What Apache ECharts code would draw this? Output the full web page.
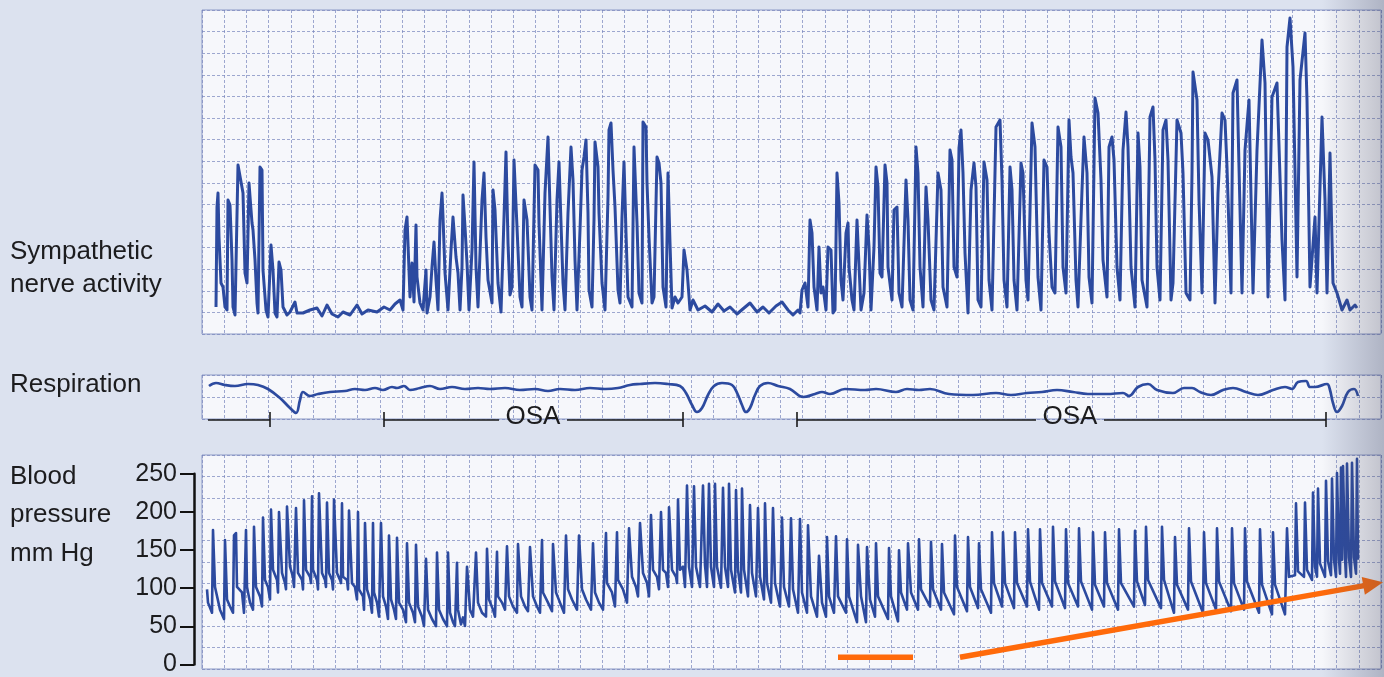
<!DOCTYPE html>
<html>
<head>
<meta charset="utf-8">
<script src="https://cdn.jsdelivr.net/npm/echarts@6/dist/echarts.min.js"></script>
<style>
  html, body { margin: 0; padding: 0; background: #dce2ef; }
  #chart { width: 1384px; height: 677px; }
</style>
</head>
<body>
<div id="chart"></div>
<script>
// Recording length (samples) and chart-paper divisions across it
const TIME_SPAN = 1179;
const PAPER_COLS = 53;

// Sympathetic nerve activity, [sample, a.u.]
const snaTrace = [
  [14,27],[15,127],[16,141],[17,97],[19,51],[21,47],[23,27],[25,24],[26,134],[28,129],[30,74],[31,27],[33,19],[35,21],[36,169],[38,167],[41,141],[43,61],[45,51],[47,151],[50,111],[51,104],[53,74],[55,31],[56,21],[58,167],[60,164],[61,64],[64,24],[66,17],[69,89],[71,64],[73,21],[75,17],[77,72],[79,64],[81,27],[85,19],
  [88,22],[93,32],[95,21],[101,21],[108,24],[115,26],[120,18],[125,29],[130,20],[136,17],[141,22],[148,19],[155,29],[160,20],[166,24],[175,22],[182,27],[188,24],[193,30],[198,34],
  [201,24],[203,104],[205,117],[206,119],[208,37],[210,71],[212,32],[214,109],[215,57],[218,31],[221,24],[224,64],[225,21],[228,37],[230,67],[232,92],[234,54],[236,24],[238,114],[240,141],[241,117],[243,61],[246,24],[249,84],[251,117],[254,77],[256,61],[258,24],[260,67],[261,139],[263,107],[265,71],[267,24],[270,84],[272,172],[274,67],[276,27],[280,134],[282,161],[284,97],[286,54],[290,31],[291,144],[293,124],[296,51],[299,22],[301,84],[304,182],[306,91],[308,39],[310,47],[312,174],[315,107],[318,37],[320,27],[322,134],[325,114],[328,37],[330,24],[333,169],[336,164],[337,111],[340,24],[343,141],[346,197],[348,127],[350,57],[352,24],[355,134],[357,172],[359,111],[361,51],[363,24],[366,121],[369,187],[371,154],[373,74],[375,24],[378,104],[380,164],[382,177],[384,194],[386,121],[387,44],[390,27],[392,114],[393,192],[396,167],[397,121],[400,51],[403,24],[406,137],[407,204],[409,211],[411,164],[413,127],[416,44],[418,31],[420,117],[422,172],[424,101],[426,37],[430,27],[432,187],[435,111],[437,41],[440,31],[441,212],[444,207],[445,151],[447,97],[450,31],[452,37],[455,177],[457,171],[459,151],[461,47],[464,27],[466,161],[468,91],[470,26],[473,37],[476,31],[480,37],[482,84],[485,64],[486,51],[488,24],[491,34],[496,24],
  [503,28],[510,22],[516,30],[522,23],[528,27],[535,20],[542,26],[548,31],[555,22],[561,27],[567,21],[574,28],[580,32],[586,24],[591,19],[596,24],
  [598,21],[600,44],[603,51],[606,27],[608,114],[610,101],[612,47],[615,24],[617,87],[619,41],[621,47],[624,24],[626,87],[629,84],[631,21],[633,24],[635,161],[637,131],[639,54],[641,34],[644,101],[646,111],[647,67],[650,34],[652,24],[655,114],[656,91],[659,24],[662,41],[665,119],[667,87],[669,24],[672,87],[674,167],[676,147],[678,61],[680,57],[683,169],[685,151],[686,67],[690,34],[692,124],[695,127],[697,41],[700,27],[704,154],[706,114],[708,34],[711,24],[714,187],[716,161],[718,67],[721,27],[724,147],[726,114],[729,34],[732,24],[736,161],[739,144],[741,47],[745,27],[748,184],[750,174],[752,67],[755,57],[757,186],[759,204],[761,161],[763,81],[766,21],[769,144],[772,171],[774,147],[776,34],[779,27],[782,172],[785,154],[787,54],[790,24],[794,207],[798,214],[800,154],[802,54],[805,27],[808,167],[810,144],[812,54],[815,24],[819,171],[821,161],[824,54],[826,34],[830,211],[833,187],[836,57],[839,24],[842,174],[845,167],[847,101],[850,47],[853,41],[856,207],[859,187],[861,67],[864,41],[867,214],[869,177],[871,161],[874,54],[876,27],[880,144],[882,197],[885,161],[887,57],[890,31],[893,236],[896,221],[899,154],[901,74],[905,37],[907,187],[910,197],[912,174],[915,67],[918,34],[921,184],[924,222],[926,187],[929,67],[933,27],[936,201],[938,167],[940,54],[945,27],[948,217],[951,227],[953,174],[955,67],[958,34],[961,204],[964,214],[966,174],[969,34],[971,51],[975,214],[979,201],[981,161],[984,41],[988,34],[990,161],[991,262],[995,234],[997,134],[1000,41],[1003,201],[1006,194],[1010,157],[1013,31],[1016,141],[1020,221],[1023,214],[1025,167],[1029,41],[1031,241],[1035,254],[1037,167],[1040,41],[1043,184],[1047,234],[1051,41],[1055,184],[1060,294],[1063,251],[1066,37],[1070,237],[1075,251],[1080,94],[1083,34],[1085,287],[1088,316],[1091,267],[1095,57],[1098,254],[1103,301],[1105,234],[1108,47],[1113,117],[1115,41],[1120,217],[1123,134],[1125,41],[1128,181],[1131,51],[1135,41],[1140,24],[1145,34],[1148,24],[1153,29],[1155,26]
];

// Respiration (chest excursion), [sample, a.u.]
const respTrace = [
  [7,33],[14,36],[23,34],[33,33],[46,35],[56,34],[66,30],[78,21],[88,11],[94,6],[98,19],[101,27],[108,23],[116,25],[128,27],[143,28],[153,30],[163,29],[173,31],[181,29],[190,32],[195,31],[202,33],[208,29],[218,31],[228,33],[238,30],[250,32],[263,30],[276,31],[288,30],[303,31],[318,29],[333,30],[346,28],[358,30],[373,29],[388,31],[403,30],[416,31],[428,34],[438,35],[453,36],[466,35],[478,33],[484,26],[490,14],[495,7],[500,11],[506,24],[512,33],[520,36],[530,34],[536,24],[540,14],[544,7],[548,11],[553,24],[558,33],[566,36],[576,33],[588,30],
  [601,22],[613,25],[620,27],[628,25],[643,30],[663,29],[674,30],[694,27],[705,30],[717,29],[728,30],[747,25],[771,24],[794,26],[809,24],[825,26],[840,27],[855,29],[871,27],[886,25],[905,25],[921,26],[927,23],[936,32],[946,35],[955,29],[971,26],[982,31],[990,31],[998,27],[1009,24],[1021,29],[1031,31],[1044,27],[1056,24],[1071,29],[1083,32],[1090,30],[1096,37],[1104,38],[1108,32],[1113,32],[1125,35],[1128,29],[1131,16],[1135,7],[1140,13],[1146,27],[1152,30],[1156,23]
];

// Arterial blood pressure, [sample, mm Hg]
const bpTrace = [
  [5,102],[6,85],[10,72],[11,178],[13,105],[15,104],[18,76],[22,64],[23,165],[25,89],[28,80],[31,72],[32,171],[34,174],[35,105],[40,98],[42,72],[44,178],[45,105],[48,85],[51,76],[52,182],[54,105],[58,93],[60,80],[61,194],[63,114],[66,105],[68,89],[69,204],[71,127],[75,114],[76,98],[77,201],[80,123],[83,110],[84,102],[85,208],[88,131],[91,118],[92,105],[94,206],[96,123],[100,114],[101,102],[102,216],[104,127],[108,118],[109,110],[110,221],[111,127],[115,114],[116,102],[117,225],[120,123],[123,114],[124,105],[125,213],[127,123],[130,114],[131,102],[132,217],[135,123],[138,114],[139,110],[140,212],[141,118],[145,114],[146,102],[147,203],[150,110],[153,105],[155,89],[156,201],[157,102],[161,93],[162,76],[163,187],[165,102],[168,89],[170,72],[171,187],[172,98],[175,85],[177,67],[179,187],[181,93],[184,80],[186,64],[187,171],[189,89],[192,76],[194,64],[195,168],[197,85],[201,76],[204,60],[205,161],[207,85],[211,72],[213,60],[214,159],[216,80],[220,67],[222,55],[224,141],[226,76],[230,64],[234,55],[235,149],[237,76],[241,64],[245,55],[246,149],[248,72],[251,60],[253,55],[255,136],[256,76],[259,57],[261,66],[263,55],[265,131],[266,114],[268,76],[271,67],[274,149],[276,85],[280,72],[284,67],[285,154],[287,89],[291,76],[293,67],[295,150],[296,93],[300,85],[303,76],[305,157],[307,93],[311,80],[315,72],[316,160],[319,93],[323,80],[326,74],[328,156],[331,93],[335,80],[338,72],[340,165],[341,98],[346,85],[350,74],[351,160],[354,98],[358,85],[362,72],[364,171],[366,102],[370,89],[375,76],[377,171],[380,102],[384,89],[389,76],[391,161],[393,98],[397,85],[401,76],[404,174],[405,110],[410,98],[413,80],[415,175],[416,114],[421,102],[425,85],[427,180],[430,118],[434,105],[436,93],[438,187],[441,123],[445,110],[447,93],[449,197],[451,127],[455,118],[457,102],[459,201],[461,127],[464,123],[466,105],[467,207],[470,127],
  [474,118],[475,110],[476,217],[478,127],[481,131],[483,105],[485,235],[487,131],[490,105],[492,234],[494,131],[498,105],[501,235],[503,133],[505,105],[507,237],[509,131],[512,105],[513,237],[515,131],[519,104],[521,232],[523,131],[526,105],[527,237],[529,127],[533,98],[534,229],[536,127],[539,98],[540,231],[542,127],[546,93],[548,210],[550,123],[554,93],[556,206],[558,118],[562,89],[563,212],[565,110],[569,85],[571,206],[573,110],[578,80],[580,194],[582,105],[587,80],[589,193],[591,102],[596,72],[598,192],[600,98],[605,72],[606,184],[609,93],[615,67],[617,145],[620,85],[624,67],[625,169],[627,93],[632,72],[634,170],[636,93],[644,72],[645,166],[647,93],[655,60],[656,159],[659,93],[664,60],[665,156],[668,89],[673,67],[674,161],[676,93],[686,64],[687,155],[689,93],[696,61],[697,152],[699,98],[705,76],[706,161],[709,98],[716,76],[717,166],[719,102],[728,80],[729,163],[731,102],[739,76],[740,160],[742,98],[752,70],[753,171],[755,105],[765,74],[766,169],[768,105],[776,78],[777,161],[779,102],[789,72],[790,175],[792,110],[800,80],[801,175],[803,110],[812,78],[813,175],[815,110],[825,80],[826,179],[828,112],[837,76],[838,179],[840,110],[850,80],[851,182],[853,112],[863,78],[864,179],[866,110],[876,80],[877,180],[879,112],[890,76],[891,175],[893,108],[902,80],[903,175],[905,110],[916,76],[917,179],[919,110],[932,80],[933,177],[935,112],[943,82],[944,182],[946,114],[959,78],[960,182],[962,114],[972,72],[973,169],[975,108],[986,76],[987,180],[989,112],[1001,72],[1002,175],[1004,110],[1014,76],[1015,180],[1017,112],[1029,74],[1030,180],[1032,110],[1042,76],[1043,180],[1045,112],[1057,72],[1058,179],[1060,108],[1070,70],[1071,175],[1073,108],[1083,70],[1085,180],[1087,118],[1093,120],[1094,212],[1096,125],[1102,118],[1103,213],[1105,127],[1110,114],[1111,226],[1113,131],[1115,118],[1116,231],[1118,135],[1123,118],[1124,241],[1126,138],[1129,120],[1130,244],[1132,140],[1134,118],[1135,251],[1137,140],[1138,122],[1139,258],[1140,140],[1141,260],[1143,143],[1144,118],[1145,263],[1147,143],[1149,118],[1150,264],[1152,143],[1154,122],[1155,269],[1156,140]
];
const bpMax = 274;
const bpTicks = [0, 50, 100, 150, 200, 250];

// Obstructive sleep apnoea episodes, [sample]
const osaStart = [6, 182, 595];
const osaEnd = [68, 481, 1124];
const osaLabel = ['', 'OSA', 'OSA'];
const osaLabelAt = [null, 331, 868];
const osaBeganEarlier = [true, false, false];

// Pressure trend annotation, [sample, mm Hg]
const trendDash = [[636, 15], [711, 15]];
const trendArrow = [[758, 15], [1181, 111]];

const FONT = '"Liberation Sans", Arial, Helvetica, sans-serif';
const INK = '#1c1c1e';
const TRACE = '#2c4a9f';
const PAPER = '#f6f7fb';
const ORANGE = '#ff6a0a';

const paperLine = { show: true, lineStyle: { color: 'rgba(120,133,188,0.7)', width: 1, type: [3, 2] } };

function timeAxis(gridIndex, paper) {
  return {
    type: 'value', gridIndex, min: 0, max: TIME_SPAN, interval: TIME_SPAN / PAPER_COLS,
    axisLine: { show: false }, axisTick: { show: false }, axisLabel: { show: false },
    splitLine: paper ? paperLine : { show: false }
  };
}
function hiddenAxis(gridIndex, min, max, interval, paper) {
  return {
    type: 'value', gridIndex, min, max, interval,
    axisLine: { show: false }, axisTick: { show: false }, axisLabel: { show: false },
    splitLine: paper ? paperLine : { show: false }
  };
}
const paperGrid = { show: true, backgroundColor: PAPER, borderColor: '#8d9ac6', borderWidth: 1, containLabel: false };

const bpGrid = { left: 202, top: 455, width: TIME_SPAN, height: 214 };
const scaleTop = bpGrid.top + bpGrid.height * (1 - bpTicks[bpTicks.length - 1] / bpMax);
const TICK_LEN = 14;

const chart = echarts.init(document.getElementById('chart'), null, { renderer: 'canvas' });

chart.setOption({
  animation: false,
  backgroundColor: '#dce2ef',
  grid: [
    Object.assign({ left: 202, top: 10, width: TIME_SPAN, height: 324 }, paperGrid),
    Object.assign({ left: 202, top: 375, width: TIME_SPAN, height: 44 }, paperGrid),
    Object.assign({}, bpGrid, paperGrid),
    { left: 194, top: scaleTop, width: 10, height: bpGrid.top + bpGrid.height - scaleTop, show: false },
    { left: 202, top: 405, width: TIME_SPAN, height: 30, show: false }
  ],
  xAxis: [
    timeAxis(0, true),
    timeAxis(1, true),
    timeAxis(2, true),
    { type: 'value', gridIndex: 3, show: false },
    timeAxis(4, false)
  ],
  yAxis: [
    hiddenAxis(0, 0, 324, 21.6, true),
    hiddenAxis(1, 0, 44, 22, true),
    hiddenAxis(2, 0, bpMax, 50, false),
    hiddenAxis(2, 0, 10, 1, true),
    {
      type: 'value', gridIndex: 3, position: 'left',
      min: bpTicks[0], max: bpTicks[bpTicks.length - 1], interval: bpTicks[1] - bpTicks[0],
      axisLine: { show: true, lineStyle: { color: '#111', width: 2.5 } },
      axisTick: { show: true, inside: false, length: TICK_LEN, lineStyle: { color: '#111', width: 2 } },
      axisLabel: { show: true, color: INK, fontSize: 25, fontFamily: FONT, margin: TICK_LEN + 3 },
      splitLine: { show: false }
    },
    hiddenAxis(4, 0, 1, 1, false)
  ],
  series: [
    {
      name: 'Sympathetic nerve activity', type: 'line', xAxisIndex: 0, yAxisIndex: 0,
      data: snaTrace, showSymbol: false, symbol: 'none',
      lineStyle: { color: TRACE, width: 3, join: 'round' }
    },
    {
      name: 'Respiration', type: 'line', xAxisIndex: 1, yAxisIndex: 1,
      data: respTrace, showSymbol: false, symbol: 'none', smooth: 0.4,
      lineStyle: { color: TRACE, width: 2.7 }
    },
    {
      name: 'Blood pressure', type: 'line', xAxisIndex: 2, yAxisIndex: 2,
      data: bpTrace, showSymbol: false, symbol: 'none',
      lineStyle: { color: TRACE, width: 2.6, join: 'round' }
    },
    {
      name: 'OSA', type: 'custom', xAxisIndex: 4, yAxisIndex: 5, clip: false, silent: true,
      data: osaStart.map((s, i) => [s, osaEnd[i], i]),
      renderItem(params, api) {
        const i = api.value(2);
        const a = api.coord([api.value(0), 0.5]);
        const b = api.coord([api.value(1), 0.5]);
        const y = a[1];
        const stroke = { stroke: '#1a1a1a', lineWidth: 1.6 };
        const kids = [];
        if (osaLabel[i]) {
          const xl = api.coord([osaLabelAt[i], 0.5])[0];
          const gap = 34;
          kids.push({ type: 'line', shape: { x1: a[0], y1: y, x2: xl - gap, y2: y }, style: stroke });
          kids.push({ type: 'line', shape: { x1: xl + gap, y1: y, x2: b[0], y2: y }, style: stroke });
          kids.push({ type: 'text', x: xl, y: y - 3,
            style: { text: osaLabel[i], fontSize: 26, fontFamily: FONT, fill: INK, align: 'center', verticalAlign: 'middle' } });
        } else {
          kids.push({ type: 'line', shape: { x1: a[0], y1: y, x2: b[0], y2: y }, style: stroke });
        }
        if (!osaBeganEarlier[i]) {
          kids.push({ type: 'line', shape: { x1: a[0], y1: y - 8, x2: a[0], y2: y + 7 }, style: stroke });
        }
        kids.push({ type: 'line', shape: { x1: b[0], y1: y - 8, x2: b[0], y2: y + 7 }, style: stroke });
        return { type: 'group', children: kids };
      }
    }
  ]
});

// Channel captions, trend arrow and the page shading at the right edge
const bpSeries = 2;
const px = p => chart.convertToPixel({ seriesIndex: bpSeries }, p);
const d0 = px(trendDash[0]), d1 = px(trendDash[1]);
const a0 = px(trendArrow[0]), a1 = px(trendArrow[1]);
const dx = a1[0] - a0[0], dy = a1[1] - a0[1];
const len = Math.hypot(dx, dy), ux = dx / len, uy = dy / len;
const headLen = 20, headHalf = 9;
const base = [a1[0] - ux * headLen, a1[1] - uy * headLen];

function caption(text, x, y) {
  return { type: 'text', x, y, z: 50, silent: true,
    style: { text, fontSize: 26, fontFamily: FONT, fill: INK, verticalAlign: 'middle', align: 'left' } };
}

chart.setOption({
  graphic: [
    caption('Sympathetic', 10, 252),
    caption('nerve activity', 10, 285),
    caption('Respiration', 10, 385),
    caption('Blood', 10, 477),
    caption('pressure', 10, 515),
    caption('mm Hg', 10, 554),
    { type: 'line', z: 60, silent: true, shape: { x1: d0[0], y1: d0[1], x2: d1[0], y2: d1[1] },
      style: { stroke: ORANGE, lineWidth: 5.5 } },
    { type: 'line', z: 60, silent: true, shape: { x1: a0[0], y1: a0[1], x2: base[0] + ux, y2: base[1] + uy },
      style: { stroke: ORANGE, lineWidth: 5.5 } },
    { type: 'polygon', z: 60, silent: true,
      shape: { points: [a1, [base[0] - uy * headHalf, base[1] + ux * headHalf], [base[0] + uy * headHalf, base[1] - ux * headHalf]] },
      style: { fill: ORANGE } },
    { type: 'rect', z: 100, silent: true, shape: { x: 1322, y: 0, width: 62, height: 677 },
      style: { fill: new echarts.graphic.LinearGradient(0, 0, 1, 0, [
        { offset: 0, color: 'rgba(70,72,96,0)' },
        { offset: 1, color: 'rgba(70,72,96,0.3)' }
      ]) } }
  ]
});
</script>
</body>
</html>
